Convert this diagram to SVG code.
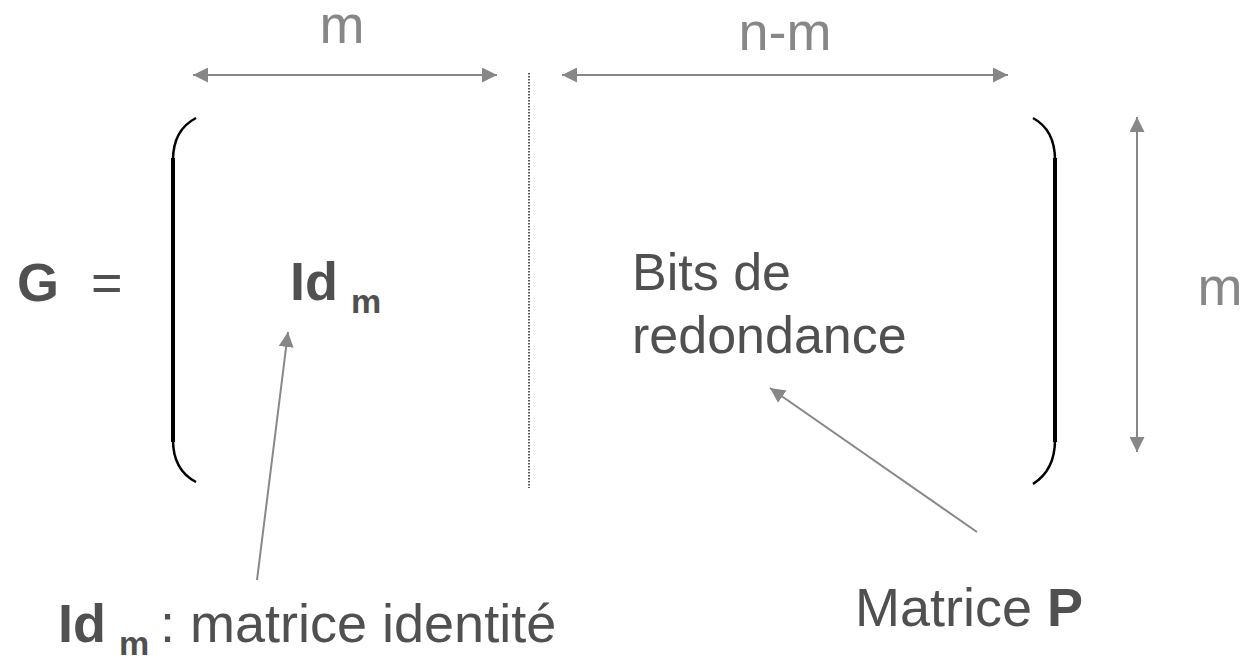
<svg xmlns="http://www.w3.org/2000/svg" width="1249" height="656" viewBox="0 0 1249 656">
<style>
text{font-family:"Liberation Sans",Arial,sans-serif;fill:#505050}
.dim{fill:#878787;font-size:54px}
.b{font-weight:bold}
.conn{stroke:#878787;stroke-width:2;fill:none}
.br{stroke:#000;fill:none}
</style>
<defs>
<marker id="ah" viewBox="0 0 15 15" refX="15" refY="7.5" markerWidth="15" markerHeight="15" markerUnits="userSpaceOnUse" orient="auto-start-reverse">
<path d="M0,0 L15,7.5 L0,15 z" fill="#878787"/>
</marker>
</defs>
<rect width="1249" height="656" fill="#fff"/>
<g id="brackets">
<path class="br" stroke-width="2.5" d="M196,118 Q173,130 173,160"/>
<path class="br" stroke-width="4" d="M173,158 L173,442"/>
<path class="br" stroke-width="2.5" d="M173,440 Q173,470 196,482"/>
<path class="br" stroke-width="2.5" d="M1033,118 Q1055,130 1055,160"/>
<path class="br" stroke-width="4" d="M1055,158 L1055,442"/>
<path class="br" stroke-width="2.5" d="M1055,440 Q1055,470 1033,484"/>
<line x1="529" y1="73" x2="529" y2="488" stroke="#000" stroke-width="1.3" stroke-dasharray="1.5,1.5"/>
</g>
<g id="connectors">
<line class="conn" x1="193" y1="75" x2="497" y2="75" marker-start="url(#ah)" marker-end="url(#ah)"/>
<line class="conn" x1="562" y1="75" x2="1008" y2="75" marker-start="url(#ah)" marker-end="url(#ah)"/>
<line class="conn" x1="1137" y1="117" x2="1137" y2="452" marker-start="url(#ah)" marker-end="url(#ah)"/>
<line class="conn" x1="257" y1="580" x2="288" y2="332" marker-end="url(#ah)"/>
<line class="conn" x1="977" y1="532" x2="770" y2="388" marker-end="url(#ah)"/>
</g>
<g id="label-m-top"><text class="dim" x="342" y="43" text-anchor="middle">m</text></g>
<g id="label-nm-top"><text class="dim" x="785" y="50" text-anchor="middle">n-m</text></g>
<g id="label-m-right"><text class="dim" x="1220" y="305" text-anchor="middle">m</text></g>
<g id="G"><text x="17" y="301" font-size="54" class="b">G</text><text x="91" y="301" font-size="54">=</text></g>
<g id="Idm"><text x="290" y="300" font-size="54" class="b">Id</text><text x="351" y="313" font-size="34" class="b">m</text></g>
<g id="P"><text x="632" y="290" font-size="52">Bits de</text><text x="632" y="353" font-size="52">redondance</text></g>
<g id="label-id"><text x="58" y="642" font-size="54" class="b">Id</text><text x="119" y="655" font-size="34" class="b">m</text><text x="160" y="642" font-size="54">: matrice identité</text></g>
<g id="label-P"><text x="855" y="626" font-size="54">Matrice <tspan class="b">P</tspan></text></g>
</svg>
